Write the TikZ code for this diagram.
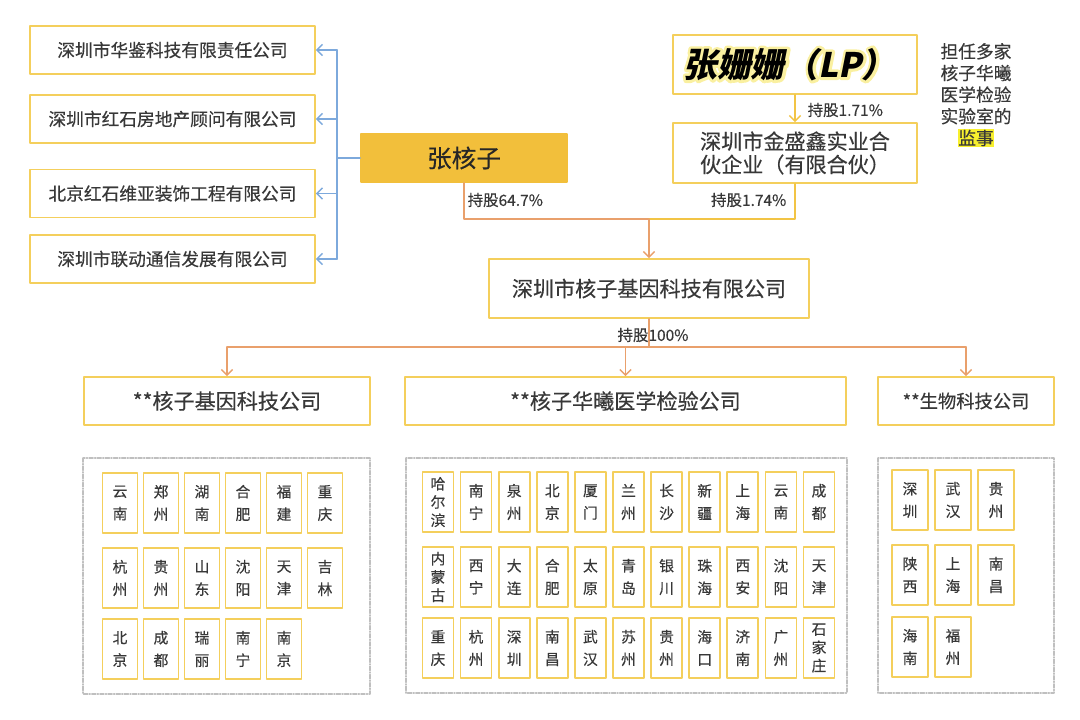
\documentclass[tikz,border=0pt]{standalone}
\usepackage{fontspec}
\setmainfont{Noto Sans CJK SC}[FakeBold=0.35]
\newfontfamily\lpfont{Noto Sans CJK SC}[FakeSlant=0.2]
\usetikzlibrary{arrows.meta}

\definecolor{boxyellow}{HTML}{F4CF5C}
\definecolor{goldfill}{HTML}{F2BF3B}
\definecolor{lineorange}{HTML}{E9A06C}
\definecolor{lineyellow}{HTML}{F2C445}
\definecolor{lineblue}{HTML}{7DA9DC}
\definecolor{txtgray}{HTML}{383838}
\definecolor{hilite}{HTML}{F8F02E}
\definecolor{glow}{HTML}{FAF0A0}

\newcommand\glowon{\special{pdf:literal direct 1 Tr 4 w 1 j 1 J}}
\newcommand\glowoff{\special{pdf:literal direct 0 Tr}}

\begin{document}
\begin{tikzpicture}[x=0.025cm, y=-0.025cm, line cap=round, line join=round,
  box/.style={draw=boxyellow, line width=1.3pt, fill=white, text=txtgray,
    minimum height=1.2cm, inner sep=2pt},
  city/.style={draw=boxyellow, line width=1.2pt, text=txtgray, minimum height=1.5cm,
    inner sep=0pt, align=center, font=\fontsize{10.5}{16}\selectfont},
  share/.style={text=txtgray, font=\fontsize{11}{13}\selectfont, inner sep=1pt},
  tip/.style={-{Straight Barb[length=4pt,width=8pt]}},
  group/.style={draw=black!25, line width=0.8pt, densely dash dot}]

\useasboundingbox (0,0) rectangle (1080,720);

% companies held by zhang hezi
\node[box, minimum width=7.125cm, font=\fontsize{12.6}{15}\selectfont] (huajian) at (172.5,50) {深圳市华鉴科技有限责任公司};
\node[box, minimum width=7.125cm, font=\fontsize{12.6}{15}\selectfont] (hongshi) at (172.5,119) {深圳市红石房地产顾问有限公司};
\node[box, minimum width=7.125cm, font=\fontsize{12.6}{15}\selectfont] (bjhongshi) at (172.5,193.5) {北京红石维亚装饰工程有限公司};
\node[box, minimum width=7.125cm, font=\fontsize{12.6}{15}\selectfont] (liandong) at (172.5,259) {深圳市联动通信发展有限公司};

\node[box, draw=goldfill, fill=goldfill, text=black!85, minimum width=5.15cm,
  font=\fontsize{17.5}{20}\selectfont] (zhanghezi) at (464,158) {张核子};

\draw[lineblue, line width=1pt] (zhanghezi.west) -- ++(-23,0) coordinate (bus);
\draw[lineblue, line width=1pt] (bus |- huajian.east) -- (bus |- liandong.east);
\foreach \n in {huajian,hongshi,bjhongshi,liandong}
  \draw[lineblue, line width=1pt, tip] (bus |- \n.east) -- (\n.east);

% limited partner
\node[box, minimum width=6.1cm, minimum height=1.475cm] (zhangss) at (795,64.5) {};
\node[font=\lpfont\bfseries\fontsize{24}{26}\selectfont, text=glow] (lpglow) at ([xshift=-4pt]zhangss.center) {\glowon 张姗姗（LP）\glowoff};
\node[font=\lpfont\bfseries\fontsize{24}{26}\selectfont, text=black] (lpname) at ([xshift=-4pt]zhangss.center) {张姗姗（LP）};

\node[box, minimum width=6.1cm, minimum height=1.5cm, align=center,
  font=\fontsize{15}{16.5}\selectfont] (jinshengxin) at (795,153) {深圳市金盛鑫实业合\\伙企业（有限合伙）};

\draw[lineyellow, line width=1pt, tip] (zhangss.south) -- (jinshengxin.north);
\node[share, anchor=west] (s171) at (806,110) {持股1.71\%};

\node[text=txtgray, align=center, font=\fontsize{12.6}{15.4}\selectfont] (note) at (976,95)
  {担任多家\\核子华曦\\医学检验\\实验室的\\\setlength\fboxsep{0.5pt}\colorbox{hilite}{监事}};

% holding company
\node[box, minimum width=8cm, minimum height=1.475cm, font=\fontsize{15}{16.5}\selectfont] (hezi) at (649,288.5) {深圳市核子基因科技有限公司};

\coordinate (join) at (649,219);
\draw[lineorange, line width=1pt] (zhanghezi.south) |- (join);
\draw[lineyellow, line width=1pt] (jinshengxin.south) |- (join);
\draw[lineorange, line width=1pt, tip] (join) -- (hezi.north);
\node[share, anchor=west] (s647) at (466,200) {持股64.7\%};
\node[share, anchor=east] (s174) at (788,200) {持股1.74\%};

% subsidiaries
\node[box, minimum width=7.15cm, font=\fontsize{15}{16.5}\selectfont] (jiyin) at (227,401) {**核子基因科技公司};
\node[box, minimum width=11.025cm, font=\fontsize{15}{16.5}\selectfont] (huaxi) at (625.5,401) {**核子华曦医学检验公司};
\node[box, minimum width=4.4cm, font=\fontsize{13}{15}\selectfont] (shengwu) at (966,401) {**生物科技公司};

\coordinate (bar) at (649,347);
\draw[lineorange, line width=1pt] (hezi.south) -- (bar);
\draw[lineorange, line width=1pt] (jiyin.north |- bar) -- (shengwu.north |- bar);
\foreach \n in {jiyin,huaxi,shengwu}
  \draw[lineorange, line width=1pt, tip] (\n.north |- bar) -- (\n.north);
\node[share] (s100) at (653,335) {持股100\%};

% branch cities
\draw[group] (83,458) rectangle (370,694);
\draw[group] (406,458) rectangle (847,693);
\draw[group] (878,458) rectangle (1054,693);

\foreach \c [count=\i from 0] in {云\\南,郑\\州,湖\\南,合\\肥,福\\建,重\\庆}
  \node[city, minimum width=0.875cm] (ja\i) at (120+41*\i,503) {\c};
\foreach \c [count=\i from 0] in {杭\\州,贵\\州,山\\东,沈\\阳,天\\津,吉\\林}
  \node[city, minimum width=0.875cm] (jb\i) at (120+41*\i,578) {\c};
\foreach \c [count=\i from 0] in {北\\京,成\\都,瑞\\丽,南\\宁,南\\京}
  \node[city, minimum width=0.875cm] (jc\i) at (120+41*\i,649) {\c};

\foreach \c [count=\i from 0] in {{哈\\[-3pt]尔\\[-3pt]滨},南\\宁,泉\\州,北\\京,厦\\门,兰\\州,长\\沙,新\\疆,上\\海,云\\南,成\\都}
  \node[city, minimum width=0.775cm] (ha\i) at (438+38.1*\i,502) {\c};
\foreach \c [count=\i from 0] in {{内\\[-3pt]蒙\\[-3pt]古},西\\宁,大\\连,合\\肥,太\\原,青\\岛,银\\川,珠\\海,西\\安,沈\\阳,天\\津}
  \node[city, minimum width=0.775cm] (hb\i) at (438+38.1*\i,577) {\c};
\foreach \c [count=\i from 0] in {重\\庆,杭\\州,深\\圳,南\\昌,武\\汉,苏\\州,贵\\州,海\\口,济\\南,广\\州,{石\\[-3pt]家\\[-3pt]庄}}
  \node[city, minimum width=0.775cm] (hc\i) at (438+38.1*\i,648) {\c};

\foreach \c [count=\i from 0] in {深\\圳,武\\汉,贵\\州}
  \node[city, minimum width=0.9cm] (sa\i) at (910+43*\i,500) {\c};
\foreach \c [count=\i from 0] in {陕\\西,上\\海,南\\昌}
  \node[city, minimum width=0.9cm] (sb\i) at (910+43*\i,575) {\c};
\foreach \c [count=\i from 0] in {海\\南,福\\州}
  \node[city, minimum width=0.9cm] (sc\i) at (910+43*\i,647) {\c};

\end{tikzpicture}
\end{document}
